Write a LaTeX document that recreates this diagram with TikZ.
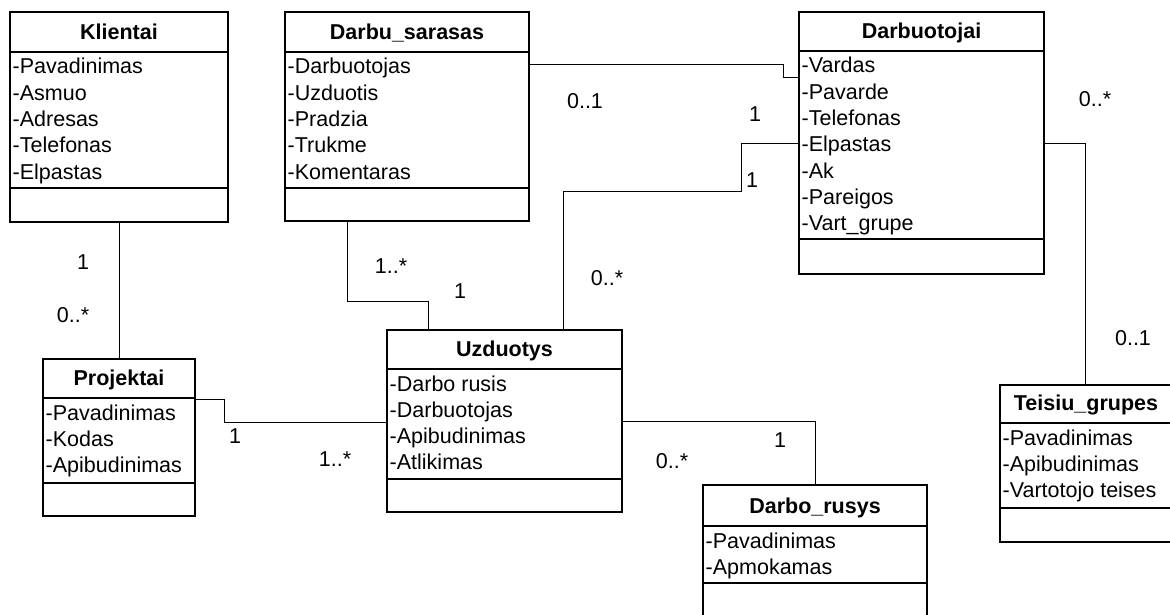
\documentclass[tikz,border=0pt]{standalone}
\usepackage{fontspec}
\setmainfont{Liberation Sans}
\usetikzlibrary{calc}

\tikzset{
  classbox/.style={draw, line width=1.2pt, anchor=north west, inner sep=0pt, outer sep=0pt},
  sepline/.style={line width=1.2pt},
  assoc/.style={line width=0.9pt},
  classtitle/.style={anchor=base, font=\fontsize{21.5}{26}\selectfont\bfseries, inner sep=0pt},
  attr/.style={anchor=base west, font=\fontsize{21.5}{26}\selectfont, inner sep=0pt},
  mult/.style={anchor=base, font=\fontsize{21.5}{26}\selectfont, inner sep=0pt},
}

% UML class: name, left, top, right, bottom, title separator, attribute separator, title, attributes
\newcommand{\umlclass}[9]{%
  \node[classbox, minimum width={(#4-#2)*1pt}, minimum height={(#5-#3)*1pt}] (#1) at (#2,#3) {};
  \draw[sepline] (#2,#6) -- (#4,#6);
  \draw[sepline] (#2,#7) -- (#4,#7);
  \node[classtitle] (#1-title) at ({(#2+#4)/2},{#6-12.5}) {#8};
  \foreach \a [count=\i from 0] in {#9}
    \node[attr] (#1-attr\i) at ({#2+2.5},{#6+22+26.3*\i}) {\a};
}

\begin{document}
\begin{tikzpicture}[x=1pt,y=-1pt]
\useasboundingbox (0,0) rectangle (1170,615);

\umlclass{klientai}{10}{12}{228}{222}{52}{188}{Klientai}
  {-Pavadinimas,-Asmuo,-Adresas,-Telefonas,-Elpastas}
\umlclass{darbusarasas}{285}{12}{529}{221}{52}{188}{Darbu\_sarasas}
  {-Darbuotojas,-Uzduotis,-Pradzia,-Trukme,-Komentaras}
\umlclass{darbuotojai}{799}{12}{1044}{274}{51}{239}{Darbuotojai}
  {-Vardas,-Pavarde,-Telefonas,-Elpastas,-Ak,-Pareigos,-Vart\_grupe}
\umlclass{projektai}{43}{359}{195}{516}{398}{483}{Projektai}
  {-Pavadinimas,-Kodas,-Apibudinimas}
\umlclass{uzduotys}{387}{330}{622}{512}{369}{479}{Uzduotys}
  {-Darbo rusis,-Darbuotojas,-Apibudinimas,-Atlikimas}
\umlclass{darborusys}{703}{485}{927}{640}{526}{583}{Darbo\_rusys}
  {-Pavadinimas,-Apmokamas}
\umlclass{teisiu}{1000}{385}{1172}{542}{423}{508}{Teisiu\_grupes}
  {-Pavadinimas,-Apibudinimas,-Vartotojo teises}

% associations
\draw[assoc] (klientai.south) -- (projektai.north);
\draw[assoc] ($(darbusarasas.north east)+(0,52)$) -| ($(darbuotojai.north west)+(-16,65)$)
  -- ($(darbuotojai.north west)+(0,65)$);
\draw[assoc] ($(uzduotys.north west)+(176,0)$) |- ($(darbuotojai.north west)+(-58,179)$)
  |- ($(darbuotojai.north west)+(0,131)$);
\draw[assoc] ($(darbuotojai.north east)+(0,131)$) -| ($(teisiu.north west)+(85,0)$);
\draw[assoc] ($(darbusarasas.south west)+(62,0)$) |- ($(uzduotys.north west)+(41,-29)$)
  -- ($(uzduotys.north west)+(41,0)$);
\draw[assoc] ($(projektai.north east)+(0,40)$) -| ($(uzduotys.north west)+(-163,92)$)
  -- ($(uzduotys.north west)+(0,92)$);
\draw[assoc] ($(uzduotys.north east)+(0,91)$) -| ($(darborusys.north west)+(112,0)$);

% multiplicities
\node[mult] (m1) at (83,269) {1};
\node[mult] (m2) at (73,322) {0..*};
\node[mult] (m3) at (585,109) {0..1};
\node[mult] (m4) at (755,122) {1};
\node[mult] (m5) at (752,187) {1};
\node[mult] (m6) at (1095,107) {0..*};
\node[mult] (m7) at (1133,345) {0..1};
\node[mult] (m8) at (391,273) {1..*};
\node[mult] (m9) at (460,298) {1};
\node[mult] (m10) at (607,285) {0..*};
\node[mult] (m11) at (235,443) {1};
\node[mult] (m12) at (335,466) {1..*};
\node[mult] (m13) at (672,468) {0..*};
\node[mult] (m14) at (780,447) {1};
\end{tikzpicture}
\end{document}
